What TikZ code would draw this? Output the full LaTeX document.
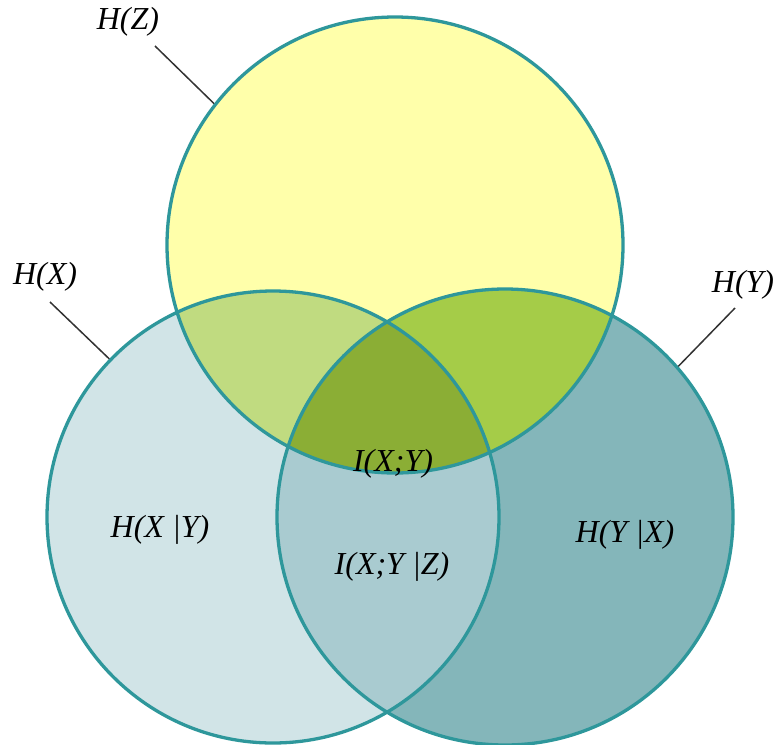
\documentclass[tikz,border=0pt]{standalone}
\usepackage{fontspec}
\setmainfont{Liberation Serif}
\usepackage{tikz}
\usetikzlibrary{positioning}
\definecolor{ringcol}{HTML}{2E979B}
\definecolor{zfill}{HTML}{FFFFAA}
\definecolor{xfill}{HTML}{D1E4E7}
\definecolor{yfill}{HTML}{84B6BA}
\definecolor{xzfill}{HTML}{C0DB80}
\definecolor{yzfill}{HTML}{A5CC48}
\definecolor{xyfill}{HTML}{A9CBD0}
\definecolor{xyzfill}{HTML}{8BAE35}
\tikzset{
x=1pt, y=-1pt, % pixel-like units, y grows downwards
ring/.style={draw=ringcol, line width=3.3pt}, % outline of each set
setlabel/.style={font=\fontsize{32}{34}\selectfont\itshape, inner sep=1pt}, % the italic texts
leader/.style={draw=black!80, line width=1.5pt}, % lines from names to circles
}
\def\setZ{(395,245) circle (228pt)}
\def\setX{(273,517) circle (226pt)}
\def\setY{(505,517) circle (228pt)}

\begin{document}
\begin{tikzpicture}
                \useasboundingbox (0,0) rectangle (778,744);
                % single sets
                \fill[zfill] \setZ;
                \fill[xfill] \setX;
                \fill[yfill] \setY;
                % pairwise overlaps
                \begin{scope}
                    \clip \setX;
                    \fill[xzfill] \setZ;
                \end{scope}
                \begin{scope}
                    \clip \setY;
                    \fill[yzfill] \setZ;
                \end{scope}
                \begin{scope}
                    \clip \setX;
                    \fill[xyfill] \setY;
                \end{scope}
                % all three
                \begin{scope}
                    \clip \setX;
                    \clip \setY;
                    \fill[xyzfill] \setZ;
                \end{scope}
                \node[circle, minimum size=456pt, inner sep=0pt, ring] (cz) at (395,245) {};
                \node[circle, minimum size=452pt, inner sep=0pt, ring] (cx) at (273,517) {};
                \node[circle, minimum size=456pt, inner sep=0pt, ring] (cy) at (505,517) {};
                % names outside
                \node[setlabel] (hz) at (128,22) {H(Z)};
                \node[setlabel] (hx) at (45,277) {H(X)};
                \node[setlabel] (hy) at (743,285) {H(Y)};
                \coordinate (hzfoot) at (155,46);
                \coordinate (hxfoot) at (50,302);
                \coordinate (hyfoot) at (735,308);
                \draw[leader] (hzfoot) -- (cz.142);
                \draw[leader] (hxfoot) -- (cx.136);
                \draw[leader] (hyfoot) -- (cy.41.6);
                % names inside
                \node[setlabel] (hxy) at (160,530) {H(X |Y)};
                \node[setlabel] (iz) at (393,464) {I(X;Y)};
                \node[setlabel] (ixyz) at (392,567) {I(X;Y |Z)};
                \node[setlabel] (hyx) at (625,535) {H(Y |X)};
                \end{tikzpicture}
\end{document}
